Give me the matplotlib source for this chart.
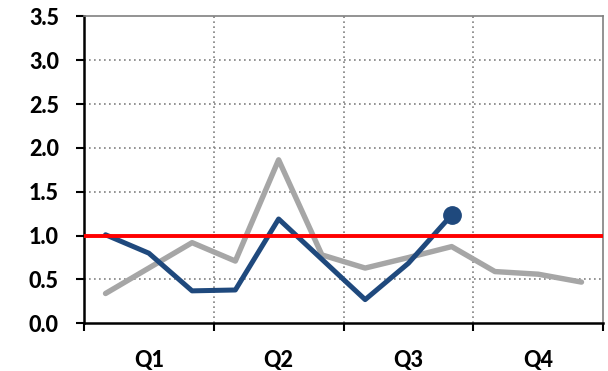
import matplotlib
matplotlib.use('Agg')
import matplotlib.pyplot as plt

# monthly values, Q1..Q4
months = list(range(12))
grey_vals = [0.34, 0.63, 0.92, 0.71, 1.865, 0.78, 0.63, 0.75, 0.875, 0.59, 0.56, 0.47]
blue_vals = [1.01, 0.80, 0.37, 0.38, 1.19, 0.73, 0.27, 0.685, 1.236]
target = 1.0
quarters = ['Q1', 'Q2', 'Q3', 'Q4']
yticks = [0.0, 0.5, 1.0, 1.5, 2.0, 2.5, 3.0, 3.5]

plt.rcParams['font.family'] = ['Lato', 'DejaVu Sans']

fig = plt.figure(figsize=(6.08, 3.71), dpi=100)
ax = fig.add_axes([0.138, 0.1286, 0.854, 0.827])

ax.plot(months, grey_vals, color='#A6A6A6', lw=3.9, solid_capstyle='round', zorder=3)
ax.plot(months[:len(blue_vals)], blue_vals, color='#1F497D', lw=3.6, solid_capstyle='round', zorder=4)
ax.plot(months[len(blue_vals) - 1], blue_vals[-1], 'o', color='#1F497D', ms=12.5, zorder=5)
ax.axhline(target, color='#FF0000', lw=2.8, zorder=4)

ax.set_xlim(-0.5, 11.5)
ax.set_ylim(0, 3.5)
ax.set_yticks(yticks)
ax.set_yticklabels(['%.1f' % v for v in yticks], fontsize=15.5, fontweight='black')

bounds = [-0.5, 2.5, 5.5, 8.5, 11.5]
ax.set_xticks(bounds)
ax.set_xticklabels([])
ax.set_xticks([1, 4, 7, 10], minor=True)
ax.set_xticklabels(quarters, minor=True, fontsize=15.5, fontweight='black')
ax.tick_params(axis='x', which='minor', length=0, pad=19)
ax.tick_params(axis='x', which='major', length=6, width=1.5, direction='out')
ax.tick_params(axis='y', length=6, width=1.5, direction='out', pad=12)

for y in yticks[1:-1]:
    ax.axhline(y, color='#808080', lw=1.2, ls=(0, (1, 2)), zorder=1)
for x in bounds[1:-1]:
    ax.axvline(x, color='#808080', lw=1.2, ls=(0, (1, 2)), zorder=1)

ax.spines['left'].set_linewidth(1.8)
ax.spines['bottom'].set_linewidth(1.8)
ax.spines['top'].set_color('#808080')
ax.spines['right'].set_color('#808080')
ax.spines['top'].set_linewidth(1.2)
ax.spines['right'].set_linewidth(1.2)

fig.savefig('out.png', dpi=100)
